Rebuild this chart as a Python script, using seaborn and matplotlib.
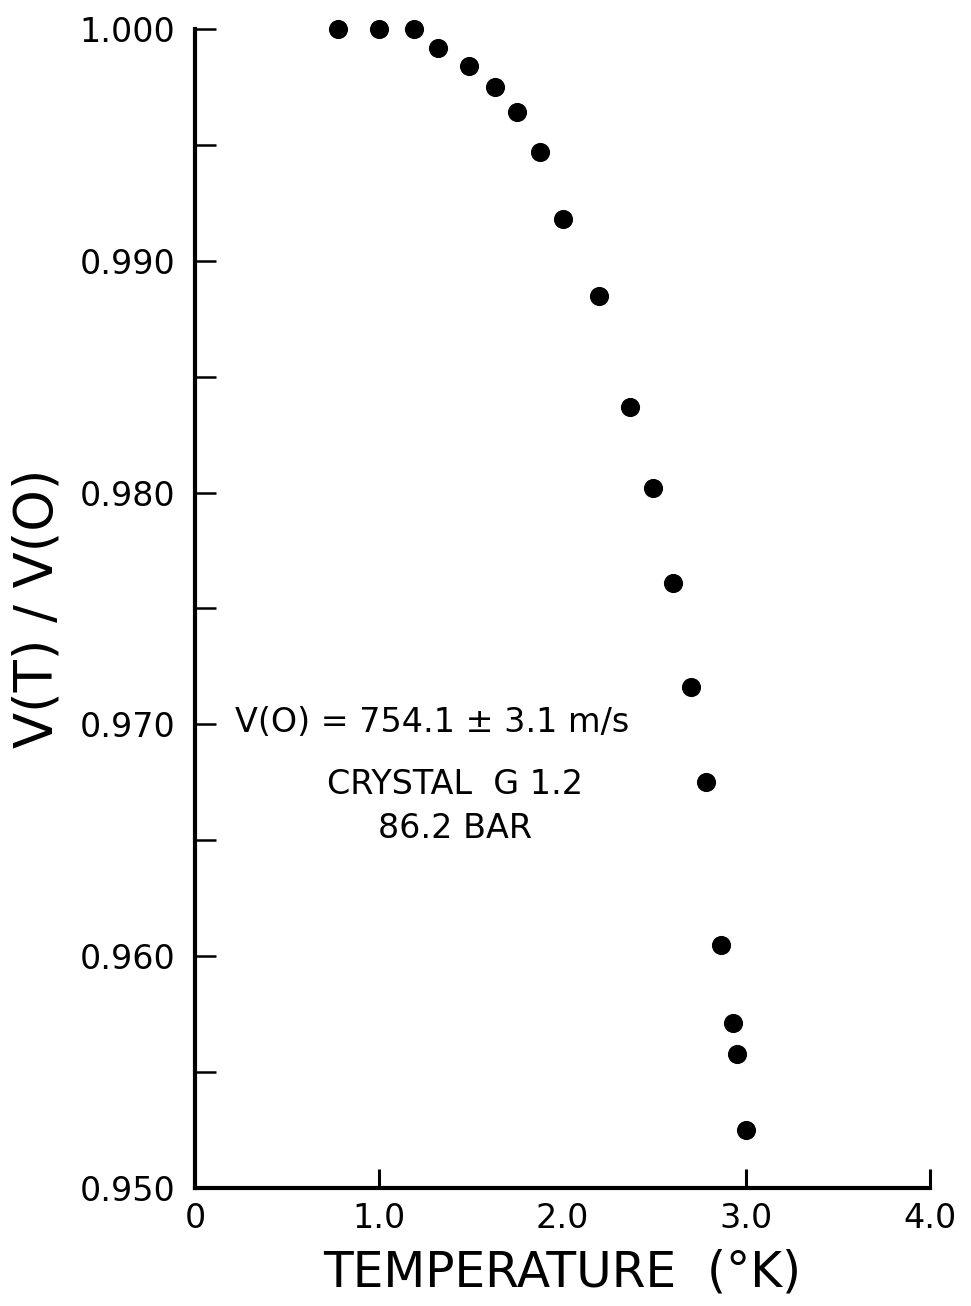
import matplotlib
matplotlib.use("Agg")
import matplotlib.pyplot as plt
import seaborn as sns
import pandas as pd

# Normalized sound velocity vs temperature
temperature = [0.78, 1.00, 1.19, 1.32, 1.49, 1.63, 1.75, 1.88, 2.00, 2.20,
               2.37, 2.49, 2.60, 2.70, 2.78, 2.86, 2.93, 2.95, 3.00]
velocity_ratio = [1.0000, 1.0000, 1.0000, 0.9992, 0.9984, 0.9975, 0.9964, 0.9947,
                  0.9918, 0.9885, 0.9837, 0.9802, 0.9761, 0.9716, 0.9675, 0.9605,
                  0.9571, 0.9558, 0.9525]

x_ticks = [0, 1.0, 2.0, 3.0, 4.0]
x_tick_labels = ["0", "1.0", "2.0", "3.0", "4.0"]
x_tick_marked = [False, True, False, True, True]
y_major = [0.950, 0.960, 0.970, 0.980, 0.990, 1.000]
y_major_labels = ["0.950", "0.960", "0.970", "0.980", "0.990", "1.000"]
y_minor = [0.955, 0.965, 0.975, 0.985, 0.995]

df = pd.DataFrame({"T": temperature, "V": velocity_ratio})

sns.set_theme(style="ticks")
plt.rcParams["font.family"] = ["DejaVu Sans"]

fig = plt.figure(figsize=(9.71, 13.06), dpi=100)
ax = fig.add_axes([0.2008, 0.0904, 0.9578 - 0.2008, 0.9778 - 0.0904])

sns.scatterplot(data=df, x="T", y="V", ax=ax, color="black", s=190,
                edgecolor="black", linewidth=0, clip_on=False, zorder=3)

ax.set_xlim(0, 4.0)
ax.set_ylim(0.950, 1.000)
sns.despine(ax=ax, top=True, right=True)
for side in ("left", "bottom"):
    ax.spines[side].set_linewidth(3.0)
    ax.spines[side].set_color("black")

ax.set_xticks(x_ticks)
ax.set_xticklabels(x_tick_labels)
ax.tick_params(axis="x", which="major", direction="in", length=14, width=2.2,
               color="black", labelsize=24, pad=10, labelcolor="black")
for tick, marked in zip(ax.xaxis.get_major_ticks(), x_tick_marked):
    tick.tick1line.set_visible(marked)

ax.set_yticks(y_major)
ax.set_yticklabels(y_major_labels)
ax.set_yticks(y_minor, minor=True)
ax.tick_params(axis="y", which="both", direction="in", length=15, width=1.8,
               color="black")
ax.tick_params(axis="y", which="major", labelsize=24, pad=14, labelcolor="black")

ax.set_xlabel("TEMPERATURE  (°K)", fontsize=35, labelpad=10, color="black")
ax.set_ylabel("V(T) / V(O)", fontsize=38, labelpad=12, color="black")

ax.text(1.29, 0.9701, "V(O) = 754.1 ± 3.1 m/s", fontsize=24, ha="center",
        va="center", color="black")
ax.text(1.415, 0.9674, "CRYSTAL  G 1.2", fontsize=24, ha="center",
        va="center", color="black")
ax.text(1.415, 0.9655, "86.2 BAR", fontsize=24, ha="center",
        va="center", color="black")

fig.savefig("out.png", dpi=100, facecolor="white")
